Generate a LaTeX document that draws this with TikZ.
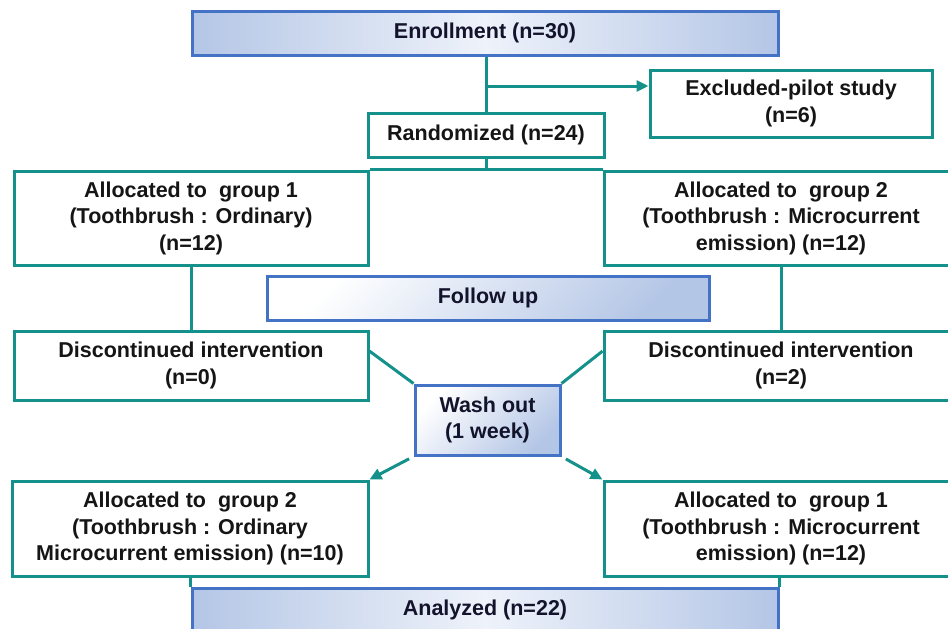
\documentclass[tikz,border=0pt]{standalone}
\usepackage{fontspec}
\setmainfont{Liberation Sans}
\usepackage{tikz}
\usetikzlibrary{arrows.meta, positioning, calc}
\definecolor{teal}{HTML}{13918A}
\definecolor{frameblue}{HTML}{4472C4}
\definecolor{shadeblue}{HTML}{B4C6E6}
\definecolor{paleblue}{HTML}{EEF2FA}
\definecolor{ink}{HTML}{151515}

\tikzset{
  flowbox/.style={draw=teal, line width=3pt, fill=white, text=ink,
    inner sep=0pt, align=center,
    font=\bfseries\fontsize{21.5}{26.5}\selectfont},
  stagebox/.style={draw=frameblue, line width=3pt, text=ink!90!blue,
    inner sep=0pt, align=center,
    font=\bfseries\fontsize{21.5}{26.5}\selectfont},
  barshade/.style={left color=shadeblue, right color=shadeblue, middle color=paleblue},
  cornershade/.style={top color=white, bottom color=shadeblue, shading angle=45},
  link/.style={teal, line width=3pt},
  linkarrow/.style={link, -{Triangle[length=12pt,width=11pt]}}
}

\begin{document}
\begin{tikzpicture}[x=1pt, y=-1pt]
  \useasboundingbox (0,0) rectangle (948,629);
  \clip (0,0) rectangle (948,629);

  % Boxes
  \node[stagebox, barshade, minimum width=586pt, minimum height=44pt] (enroll) at (485,33) {Enrollment (n=30)};
  \node[flowbox, minimum width=282pt, minimum height=67pt] (excl) at (791,103.5) {Excluded-pilot study\\(n=6)};
  \node[flowbox, minimum width=236pt, minimum height=44pt] (rand) at (486,135) {Randomized (n=24)};
  \node[flowbox, minimum width=354pt, minimum height=94pt] (alloca) at (191,218) {Allocated to \ group 1\\(Toothbrush : Ordinary)\\(n=12)};
  \node[flowbox, minimum width=354pt, minimum height=94pt] (allocb) at (781,218) {Allocated to \ group 2\\(Toothbrush : Microcurrent\\emission) (n=12)};
  \node[stagebox, cornershade, minimum width=442pt, minimum height=44pt] (follow) at (488,298) {Follow up};
  \node[flowbox, minimum width=354pt, minimum height=69pt] (disca) at (191,365.5) {Discontinued intervention\\(n=0)};
  \node[flowbox, minimum width=354pt, minimum height=69pt] (discb) at (781,365.5) {Discontinued intervention\\(n=2)};
  \node[stagebox, cornershade, minimum width=145pt, minimum height=70pt] (wash) at (487.5,420) {Wash out\\(1 week)};
  \node[flowbox, minimum width=356pt, minimum height=95pt] (allocc) at (190,528.5) {Allocated to \ group 2\\(Toothbrush : Ordinary\\Microcurrent emission) (n=10)};
  \node[flowbox, minimum width=354pt, minimum height=95pt] (allocd) at (781,528.5) {Allocated to \ group 1\\(Toothbrush : Microcurrent\\emission) (n=12)};
  \node[stagebox, barshade, minimum width=586pt, minimum height=44pt] (analyzed) at (485,610) {Analyzed (n=22)};

  % Connectors
  \coordinate (split) at (486,86);
  \draw[link] (enroll.south -| rand.north) -- (rand.north);
  \draw[linkarrow] (split) -- (split -| excl.west);
  \draw[link] (rand.south) -- (rand.south |- alloca.north);
  \draw[link] (alloca.north east) -- (allocb.north west);
  \draw[link] (alloca.south) -- (disca.north);
  \draw[link] (allocb.south) -- (discb.north);
  \draw[link] ($(disca.north east)!0.3!(disca.south east)$) -- (wash.north west);
  \draw[link] ($(discb.north west)!0.3!(discb.south west)$) -- (wash.north east);
  \draw[linkarrow, shorten <=5pt] (wash.south west) -- (allocc.north east);
  \draw[linkarrow, shorten <=5pt] (wash.south east) -- (allocd.north west);
  \draw[link] (analyzed.north west) -- (analyzed.north west |- allocc.south);
  \draw[link] (analyzed.north east) -- (analyzed.north east |- allocd.south);
\end{tikzpicture}
\end{document}
